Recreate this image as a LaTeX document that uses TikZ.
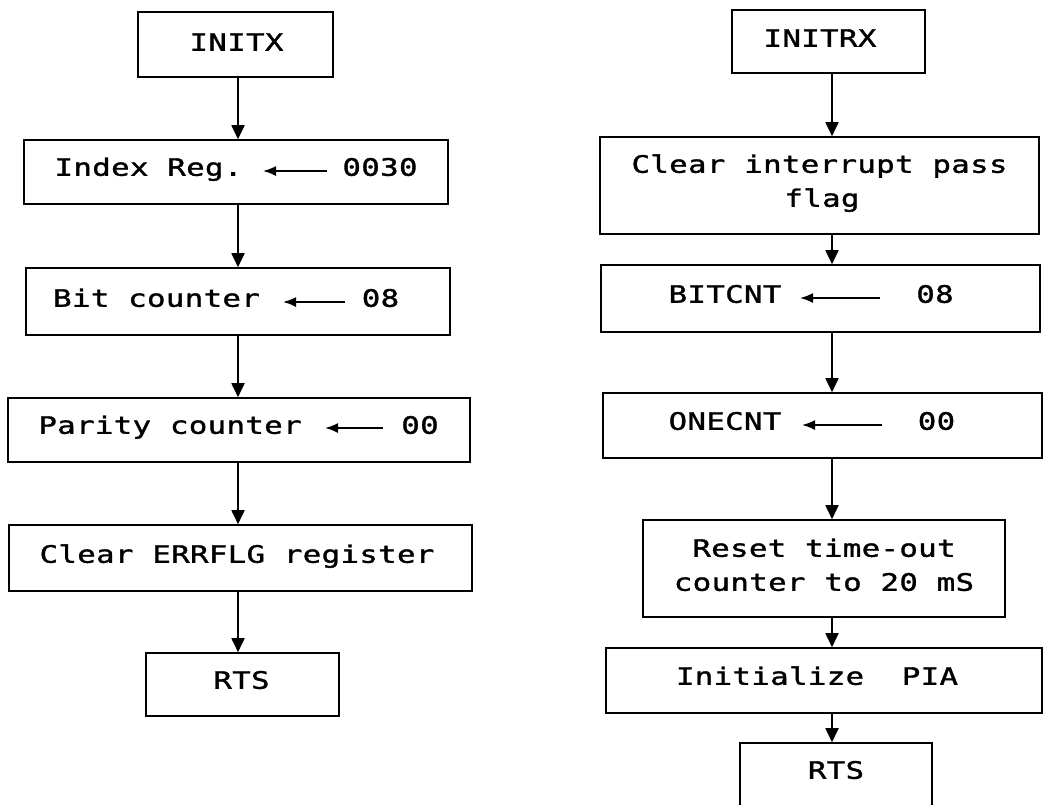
\documentclass[tikz,border=0pt]{standalone}
\usepackage{fontspec}
\newfontfamily\dotfont{DejaVu Sans Mono}[FakeStretch=1.28, LetterSpace=1.5, FakeBold=1.4]
\usetikzlibrary{arrows.meta}
\begin{document}
\begin{tikzpicture}[x=1pt,y=-1pt,
  box/.style={draw, line width=1.6pt, inner sep=0pt},
  lbl/.style={inner sep=0pt, font=\dotfont\fontsize{24}{34}\selectfont,
              text height=17.5pt, text depth=0pt},
  flow/.style={line width=1.8pt, -{Triangle[length=14pt,width=13pt]}},
  inarr/.style={line width=1.7pt, -{Latex[length=13pt,width=10pt]}}]

% page frame
\clip (0,0) rectangle (1046,804);
\fill[white] (0,0) rectangle (1046,804);

% column axes for the flow arrows
\coordinate (colL) at (238,0);
\coordinate (colR) at (832,0);

% ---------------- INITX ----------------
\node[box, minimum width=195pt, minimum height=65pt] (L1) at (235.5,44.5) {};
\node[lbl] (L1t) at (236.5,42) {INITX};

\node[box, minimum width=424pt, minimum height=64pt] (L2) at (236,172) {};
\node[lbl] (L2k) at (148.5,167) {Index Reg.};
\node[lbl] (L2v) at (380,167) {0030};
\coordinate (L2s) at (327,171);
\coordinate (L2e) at (263,171);
\draw[inarr] (L2s) -- (L2e);

\node[box, minimum width=424pt, minimum height=67pt] (L3) at (238,301.5) {};
\node[lbl] (L3k) at (156.5,298) {Bit counter};
\node[lbl] (L3v) at (380.5,298) {08};
\coordinate (L3s) at (345,302);
\coordinate (L3e) at (283,302);
\draw[inarr] (L3s) -- (L3e);

\node[box, minimum width=462pt, minimum height=64pt] (L4) at (239,430) {};
\node[lbl] (L4k) at (170,425) {Parity counter};
\node[lbl] (L4v) at (420,425) {00};
\coordinate (L4s) at (383,428);
\coordinate (L4e) at (325,428);
\draw[inarr] (L4s) -- (L4e);

\node[box, minimum width=463pt, minimum height=66pt] (L5) at (240.5,558) {};
\node[lbl] (L5t) at (237,554) {Clear ERRFLG register};

\node[box, minimum width=193pt, minimum height=63pt] (L6) at (242.5,684.5) {};
\node[lbl] (L6t) at (241.5,680) {RTS};

\draw[flow] (L1.south -| colL) -- (L2.north -| colL);
\draw[flow] (L2.south -| colL) -- (L3.north -| colL);
\draw[flow] (L3.south -| colL) -- (L4.north -| colL);
\draw[flow] (L4.south -| colL) -- (L5.north -| colL);
\draw[flow] (L5.south -| colL) -- (L6.north -| colL);

% ---------------- INITRX ----------------
\node[box, minimum width=193pt, minimum height=63pt] (R1) at (828.5,41.5) {};
\node[lbl] (R1t) at (820,38) {INITRX};

\node[box, minimum width=439pt, minimum height=97pt] (R2) at (819.5,185.5) {};
\node[lbl] (R2a) at (819.5,164) {Clear interrupt pass};
\node[lbl] (R2b) at (822,198) {flag};

\node[box, minimum width=439pt, minimum height=67pt] (R3) at (820.5,298.5) {};
\node[lbl] (R3k) at (725,294) {BITCNT};
\node[lbl] (R3v) at (935,294) {08};
\coordinate (R3s) at (880,298);
\coordinate (R3e) at (800,298);
\draw[inarr] (R3s) -- (R3e);

\node[box, minimum width=439pt, minimum height=65pt] (R4) at (822.5,425.5) {};
\node[lbl] (R4k) at (725,421) {ONECNT};
\node[lbl] (R4v) at (936.5,421) {00};
\coordinate (R4s) at (882,425);
\coordinate (R4e) at (802,425);
\draw[inarr] (R4s) -- (R4e);

\node[box, minimum width=362pt, minimum height=97pt] (R5) at (824,568.5) {};
\node[lbl] (R5a) at (824,548) {Reset time-out};
\node[lbl] (R5b) at (824,582) {counter to 20 mS};

\node[box, minimum width=436pt, minimum height=65pt] (R6) at (824,680.5) {};
\node[lbl] (R6t) at (817,676) {Initialize\ \ PIA};

\node[box, minimum width=192pt, minimum height=67pt] (R7) at (836,776.5) {};
\node[lbl] (R7t) at (836,770) {RTS};

\draw[flow] (R1.south -| colR) -- (R2.north -| colR);
\draw[flow] (R2.south -| colR) -- (R3.north -| colR);
\draw[flow] (R3.south -| colR) -- (R4.north -| colR);
\draw[flow] (R4.south -| colR) -- (R5.north -| colR);
\draw[flow] (R5.south -| colR) -- (R6.north -| colR);
\draw[flow] (R6.south -| colR) -- (R7.north -| colR);
\end{tikzpicture}
\end{document}
